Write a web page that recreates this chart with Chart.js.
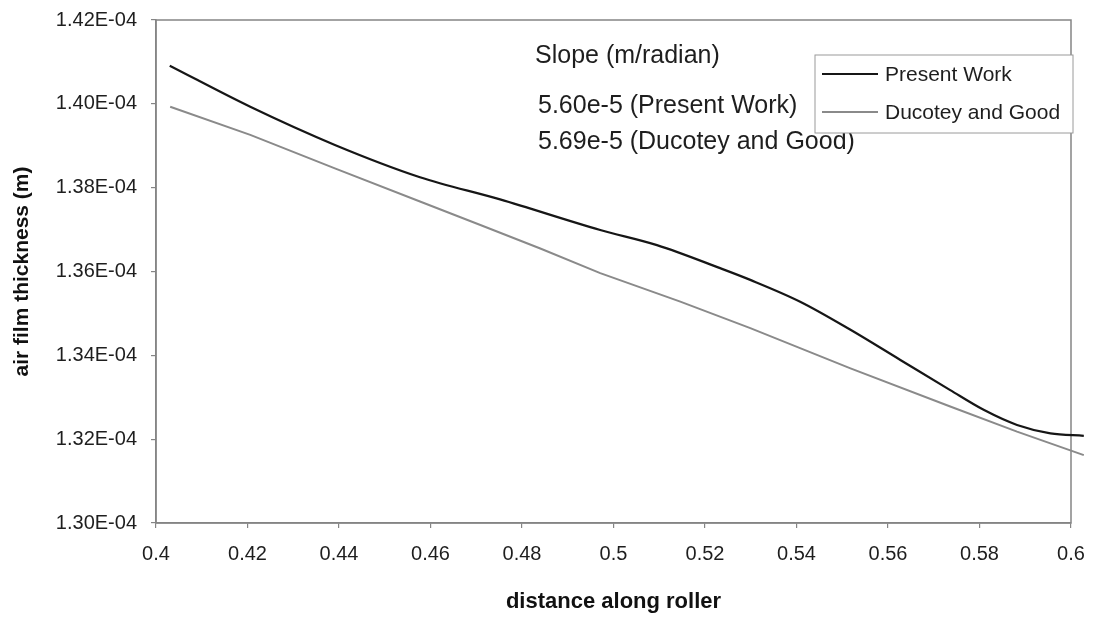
<!DOCTYPE html>
<html lang="en">
<head>
<meta charset="UTF-8">
<title>Air film thickness along roller</title>
<script src="https://cdn.jsdelivr.net/npm/chart.js"></script>
<style>
  html, body { margin: 0; padding: 0; background: #fff; }
</style>
</head>
<body>
<canvas id="myChart" width="1095" height="619"></canvas>
<script>
// values: distance along roller (x) and air film thickness in m (y)
const presentX = [0.4030, 0.4206, 0.4391, 0.4577, 0.4752, 0.4971, 0.5095, 0.5233, 0.5299, 0.5408, 0.5518, 0.5627, 0.5736, 0.5809, 0.5882, 0.5955, 0.6028];
const presentY = [1.4091e-4, 1.3993e-4, 1.3902e-4, 1.3825e-4, 1.3772e-4, 1.3699e-4, 1.3663e-4, 1.3608e-4, 1.3580e-4, 1.3528e-4, 1.3461e-4, 1.3389e-4, 1.3317e-4, 1.3270e-4, 1.3234e-4, 1.3214e-4, 1.3208e-4];
const ducoteyX = [0.4031, 0.4206, 0.4391, 0.4577, 0.4709, 0.4840, 0.4971, 0.5146, 0.5299, 0.5518, 0.5736, 0.5882, 0.6028];
const ducoteyY = [1.3993e-4, 1.3926e-4, 1.3846e-4, 1.3767e-4, 1.3711e-4, 1.3655e-4, 1.3596e-4, 1.3528e-4, 1.3465e-4, 1.3369e-4, 1.3278e-4, 1.3218e-4, 1.3162e-4];
const seriesNames = ['Present Work', 'Ducotey and Good'];
const xRange = [0.4, 0.6, 0.02];
const yRange = [1.30e-4, 1.42e-4, 0.02e-4];
const slopeNotes = ['Slope (m/radian)', '5.60e-5 (Present Work)', '5.69e-5 (Ducotey and Good)'];

const FONT = "'Liberation Sans', Arial, sans-serif";

// 1.32E-04 style labels like the spreadsheet
function sciLabel(v) {
    const parts = v.toExponential(2).split('e');
    const n = parseInt(parts[1], 10);
    return parts[0] + 'E' + (n < 0 ? '-' : '+') + String(Math.abs(n)).padStart(2, '0');
}

// frame round the plot, slope notes and the boxed legend
const extras = {
    id: 'extras',
    beforeDatasetsDraw(chart) {
        const { ctx, chartArea: a } = chart;
        ctx.save();
        ctx.strokeStyle = '#858585';
        ctx.lineWidth = 1.5;
        ctx.strokeRect(a.left, a.top, a.right - a.left, a.bottom - a.top);
        ctx.restore();
    },
    afterDraw(chart) {
        const { ctx, chartArea: a } = chart;
        ctx.save();
        ctx.fillStyle = '#1e1e1e';
        ctx.textBaseline = 'alphabetic';
        ctx.textAlign = 'left';
        ctx.font = '25px ' + FONT;
        ctx.fillText(slopeNotes[0], a.left + 379, a.top + 43);
        ctx.fillText(slopeNotes[1], a.left + 382, a.top + 93);
        ctx.fillText(slopeNotes[2], a.left + 382, a.top + 129);

        // legend box
        const bx = a.right - 256, by = a.top + 35, bw = 258, bh = 78;
        ctx.fillStyle = '#fff';
        ctx.fillRect(bx, by, bw, bh);
        ctx.strokeStyle = '#9a9a9a';
        ctx.lineWidth = 1;
        ctx.strokeRect(bx, by, bw, bh);
        ctx.font = '21px ' + FONT;
        chart.data.datasets.forEach((ds, i) => {
            const base = by + 26 + i * 38;
            ctx.strokeStyle = ds.borderColor;
            ctx.lineWidth = ds.borderWidth;
            ctx.beginPath();
            ctx.moveTo(bx + 7, base - 7);
            ctx.lineTo(bx + 63, base - 7);
            ctx.stroke();
            ctx.fillStyle = '#1e1e1e';
            ctx.fillText(ds.label, bx + 70, base);
        });
        ctx.restore();
    }
};

const ctx = document.getElementById('myChart').getContext('2d');
const myChart = new Chart(ctx, {
    type: 'line',
    data: {
        datasets: [
            {
                label: seriesNames[0],
                data: presentX.map((x, i) => ({ x: x, y: presentY[i] })),
                borderColor: '#161616',
                borderWidth: 2.2,
                pointRadius: 0,
                tension: 0.3,
                cubicInterpolationMode: 'monotone',
                clip: false,
                fill: false
            },
            {
                label: seriesNames[1],
                data: ducoteyX.map((x, i) => ({ x: x, y: ducoteyY[i] })),
                borderColor: '#8a8a8a',
                borderWidth: 2,
                pointRadius: 0,
                tension: 0,
                clip: false,
                fill: false
            }
        ]
    },
    options: {
        responsive: false,
        animation: false,
        layout: { padding: { left: 10, right: 24, top: 20, bottom: 4 } },
        plugins: {
            legend: { display: false },
            tooltip: { enabled: false }
        },
        scales: {
            x: {
                type: 'linear',
                min: xRange[0],
                max: xRange[1],
                border: { color: '#858585', width: 1.5 },
                grid: { drawOnChartArea: false, tickLength: 5, color: '#858585', lineWidth: 1.2 },
                ticks: {
                    stepSize: xRange[2],
                    padding: 14,
                    color: '#1e1e1e',
                    font: { family: FONT, size: 20 },
                    maxRotation: 0,
                    callback: v => String(parseFloat(v.toFixed(4)))
                },
                title: {
                    display: true,
                    text: 'distance along roller',
                    color: '#111',
                    font: { family: FONT, size: 22, weight: 'bold' },
                    padding: { top: 8, bottom: 0 }
                },
                // fixed band height, no overhang padding from end labels
                afterFit: s => { s.height = 92; s.paddingLeft = 0; s.paddingRight = 0; }
            },
            y: {
                min: yRange[0],
                max: yRange[1],
                border: { color: '#858585', width: 1.5 },
                grid: { drawOnChartArea: false, tickLength: 5, color: '#858585', lineWidth: 1.2 },
                ticks: {
                    stepSize: yRange[2],
                    padding: 14,
                    color: '#1e1e1e',
                    font: { family: FONT, size: 20 },
                    callback: v => sciLabel(v)
                },
                title: {
                    display: true,
                    text: 'air film thickness (m)',
                    color: '#111',
                    font: { family: FONT, size: 21, weight: 'bold' },
                    padding: { top: 0, bottom: 7 }
                },
                afterFit: s => { s.width = 146; s.paddingTop = 0; s.paddingBottom = 0; }
            }
        }
    },
    plugins: [extras]
});
</script>
</body>
</html>
